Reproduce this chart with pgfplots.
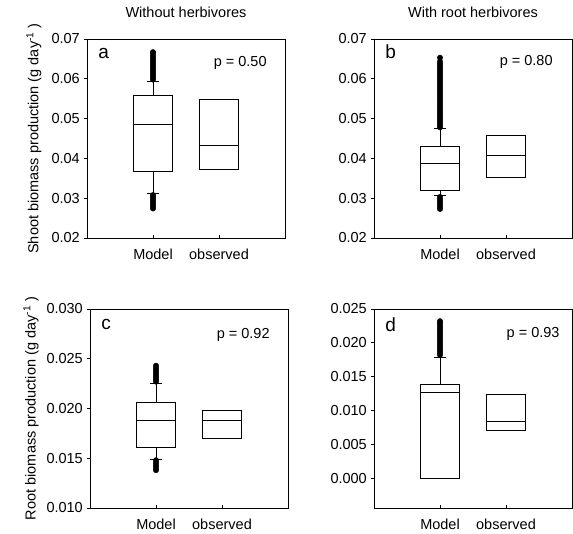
\documentclass[border=0pt]{standalone}
\usepackage{fontspec}
\setmainfont{Liberation Sans}
\usepackage{pgfplots}
\pgfplotsset{compat=1.18}
\usepgfplotslibrary{statistics}

\newcommand{\fs}{\fontsize{14.5}{17}\selectfont}
\pgfplotsset{
  panel/.style={
    scale only axis, width=198pt, height=199pt,
    xmin=0, xmax=3, xtick={1,2}, xticklabels={Model, observed},
    xtick align=inside, ytick align=outside,
    major tick length=3pt,
    tick style={black, line width=0.8pt},
    axis line style={line width=0.9pt},
    xtick pos=bottom, ytick pos=left,
    scaled y ticks=false,
    /pgf/number format/assume math mode=true,
    tick label style={font=\fs},
    xticklabel style={anchor=base, yshift=-22pt},
    yticklabel style={anchor=east, inner sep=0pt, xshift=-4pt},
    label style={font=\fs},
    title style={font=\fs, at={(axis description cs:0.5,1)}, anchor=base, yshift=15pt},
    boxplot/draw direction=y,
    boxplot/box extend=0.6,
    boxplot/whisker extend=0.18,
  },
  bx/.style={black, line width=0.9pt, mark=*, mark size=2.7pt,
    mark options={solid, fill=black, line width=0.4pt}},
}
\tikzset{
  letter/.style={font=\fontsize{19}{22}\selectfont, anchor=base west},
  pval/.style={font=\fs, anchor=base east},
}

\begin{document}
\begin{tikzpicture}
\useasboundingbox (0,0) rectangle (573pt,534pt);

% ---------- a ----------
\begin{axis}[panel, at={(87pt,296pt)}, anchor=south west,
  ymin=0.02, ymax=0.07, ytick={0.02,0.03,0.04,0.05,0.06,0.07},
  yticklabel style={/pgf/number format/.cd, fixed, fixed zerofill, precision=2},
  title={Without herbivores},
  ylabel={Shoot biomass production (g day\textsuperscript{-1} )},
  ylabel style={at={(axis description cs:-0.245,0.5)}, anchor=base}]
\addplot[bx, boxplot prepared={draw position=1, lower whisker=0.0313, lower quartile=0.0367,
  median=0.0485, upper quartile=0.0559, upper whisker=0.0593}]
  table[row sep=\\, y index=0] {v\\ 0.0598\\ 0.0603\\ 0.0608\\ 0.0613\\ 0.0618\\ 0.0623\\ 0.0628\\ 0.0633\\ 0.0638\\ 0.0643\\ 0.0648\\ 0.0653\\ 0.0658\\ 0.0663\\ 0.0667\\
  0.0274\\ 0.0279\\ 0.0284\\ 0.0289\\ 0.0294\\ 0.0299\\ 0.0304\\ 0.0308\\};
\addplot[bx, boxplot prepared={draw position=2, lower whisker=0.0373, lower quartile=0.0373,
  median=0.0432, upper quartile=0.0547, upper whisker=0.0547}] coordinates {};
\node[letter] at (axis description cs:0.04,0.9) {a};
\node[pval] at (axis description cs:0.925,0.86) {p = 0.50};
\end{axis}

% ---------- b ----------
\begin{axis}[panel, at={(374pt,296pt)}, anchor=south west,
  ymin=0.02, ymax=0.07, ytick={0.02,0.03,0.04,0.05,0.06,0.07},
  yticklabel style={/pgf/number format/.cd, fixed, fixed zerofill, precision=2},
  title={With root herbivores}]
\addplot[bx, boxplot prepared={draw position=1, lower whisker=0.0306, lower quartile=0.0320,
  median=0.0387, upper quartile=0.0430, upper whisker=0.0474}]
  table[row sep=\\, y index=0] {v\\ 0.0478\\ 0.0483\\ 0.0488\\ 0.0493\\ 0.0498\\ 0.0503\\ 0.0508\\ 0.0513\\ 0.0518\\ 0.0523\\ 0.0528\\ 0.0533\\ 0.0538\\ 0.0543\\ 0.0548\\ 0.0553\\ 0.0558\\ 0.0563\\ 0.0568\\ 0.0573\\ 0.0578\\ 0.0583\\ 0.0588\\ 0.0593\\ 0.0598\\ 0.0603\\ 0.0608\\ 0.0613\\ 0.0618\\ 0.0623\\ 0.0628\\ 0.0633\\ 0.0638\\ 0.0643\\ 0.0653\\
  0.0273\\ 0.0278\\ 0.0283\\ 0.0288\\ 0.0293\\ 0.0298\\ 0.0303\\};
\addplot[bx, boxplot prepared={draw position=2, lower whisker=0.0352, lower quartile=0.0352,
  median=0.0408, upper quartile=0.0458, upper whisker=0.0458}] coordinates {};
\node[letter] at (axis description cs:0.04,0.9) {b};
\node[pval] at (axis description cs:0.92,0.865) {p = 0.80};
\end{axis}

% ---------- c ----------
\begin{axis}[panel, at={(90pt,26pt)}, anchor=south west,
  ymin=0.010, ymax=0.030, ytick={0.010,0.015,0.020,0.025,0.030},
  yticklabel style={/pgf/number format/.cd, fixed, fixed zerofill, precision=3},
  ylabel={Root biomass production (g day\textsuperscript{-1} )},
  ylabel style={at={(axis description cs:-0.275,0.5)}, anchor=base}]
\addplot[bx, boxplot prepared={draw position=1, lower whisker=0.0149, lower quartile=0.0161,
  median=0.0188, upper quartile=0.0206, upper whisker=0.0225}]
  table[row sep=\\, y index=0] {v\\ 0.0227\\ 0.0229\\ 0.0231\\ 0.0233\\ 0.0235\\ 0.0237\\ 0.0239\\ 0.0241\\ 0.0243\\
  0.0138\\ 0.0140\\ 0.0142\\ 0.0144\\ 0.0146\\ 0.0148\\};
\addplot[bx, boxplot prepared={draw position=2, lower whisker=0.0170, lower quartile=0.0170,
  median=0.0188, upper quartile=0.0198, upper whisker=0.0198}] coordinates {};
\node[letter] at (axis description cs:0.04,0.895) {c};
\node[pval] at (axis description cs:0.925,0.85) {p = 0.92};
\end{axis}

% ---------- d ----------
\begin{axis}[panel, at={(374pt,26pt)}, anchor=south west,
  ymin=-0.0044, ymax=0.025, ytick={0,0.005,0.010,0.015,0.020,0.025},
  yticklabel style={/pgf/number format/.cd, fixed, fixed zerofill, precision=3}]
\addplot[bx, boxplot prepared={draw position=1, lower whisker=0, lower quartile=0,
  median=0.0127, upper quartile=0.0139, upper whisker=0.0179}]
  table[row sep=\\, y index=0] {v\\ 0.0182\\ 0.0185\\ 0.0188\\ 0.0191\\ 0.0194\\ 0.0197\\ 0.0200\\ 0.0203\\ 0.0206\\ 0.0209\\ 0.0212\\ 0.0215\\ 0.0218\\ 0.0221\\ 0.0224\\ 0.0227\\ 0.0230\\ 0.0232\\};
\addplot[bx, boxplot prepared={draw position=2, lower whisker=0.0070, lower quartile=0.0070,
  median=0.0084, upper quartile=0.01235, upper whisker=0.01235}] coordinates {};
\node[letter] at (axis description cs:0.04,0.885) {d};
\node[pval] at (axis description cs:0.955,0.855) {p = 0.93};
\end{axis}
\end{tikzpicture}
\end{document}
